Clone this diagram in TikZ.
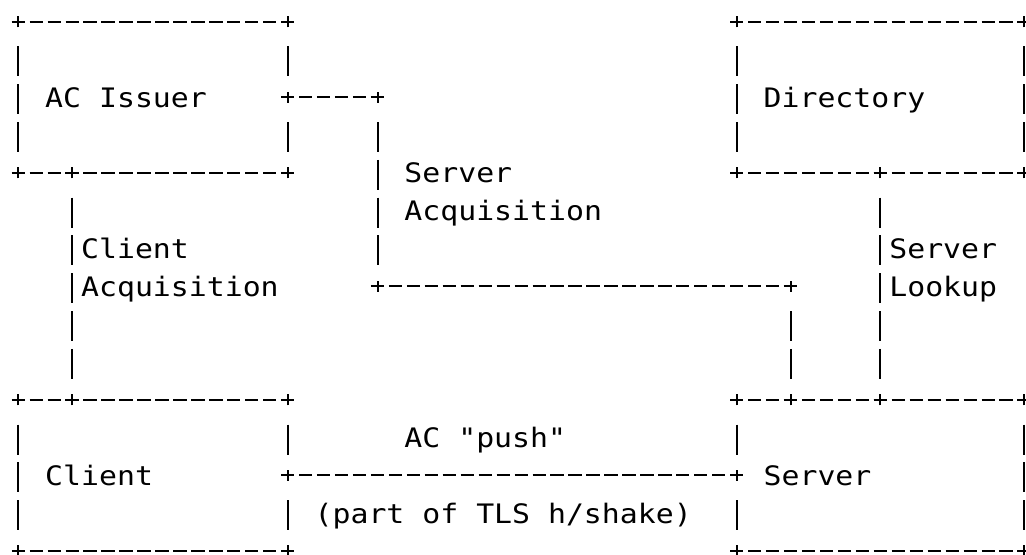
\documentclass[tikz,border=0pt]{standalone}
\usepackage{fontspec}
\newfontfamily\monofont[FakeStretch=1.113]{DejaVu Sans Mono}

\tikzset{
  % one column / one row of the character grid
  box/.style={rectangle, inner sep=0pt, outer sep=0pt},
  stroke/.style={line width=1pt, black},
  hrule/.style={stroke, dash pattern=on 6.65pt off 2.33pt, dash phase=3.325pt},
  vrule/.style={stroke, dash pattern=on 15pt off 3.9pt,
                shorten <=12.4pt, shorten >=10.4pt},
  lbl/.style={anchor=base west, inner sep=0pt, outer sep=0pt, yshift=-5pt,
              font=\monofont\fontsize{13.4}{16}\selectfont, text=black},
}

\begin{document}
\begin{tikzpicture}[x=8.98pt, y=-18.9pt]
\useasboundingbox (-9.15pt,10.85pt) rectangle (503.85pt,-266.65pt);
\clip (-9.15pt,10.85pt) rectangle (503.85pt,-266.65pt);

% boxes
\node[box, minimum width=134.7pt, minimum height=75.6pt] (issuer) at (7.5,2) {};
\node[box, minimum width=143.68pt, minimum height=75.6pt] (directory) at (48,2) {};
\node[box, minimum width=134.7pt, minimum height=75.6pt] (client) at (7.5,12) {};
\node[box, minimum width=143.68pt, minimum height=75.6pt] (server) at (48,12) {};

% junction points of the connectors
\coordinate (iE)  at (issuer.east);
\coordinate (sA1) at (20,2);
\coordinate (sA2) at (20,7);
\coordinate (sA3) at (43,7);
\coordinate (sT)  at (43,10);
\coordinate (cA1) at (3,4);
\coordinate (cA2) at (3,10);

% box edges, horizontal
\foreach \b in {issuer,directory,client,server}{
  \draw[hrule] (\b.north west) -- (\b.north east);
  \draw[hrule] (\b.south west) -- (\b.south east);
}
% box edges, vertical (split at junctions)
\draw[vrule] (issuer.north west) -- (issuer.south west);
\draw[vrule] (issuer.north east) -- (iE);
\draw[vrule] (iE) -- (issuer.south east);
\draw[vrule] (directory.north west) -- (directory.south west);
\draw[vrule] (directory.north east) -- (directory.south east);
\draw[vrule] (client.north west) -- (client.south west);
\draw[vrule] (client.north east) -- (client.east);
\draw[vrule] (client.east) -- (client.south east);
\draw[vrule] (server.north west) -- (server.west);
\draw[vrule] (server.west) -- (server.south west);
\draw[vrule] (server.north east) -- (server.south east);

% server acquisition
\draw[hrule] (iE) -- (sA1);
\draw[vrule] (sA1) -- (sA2);
\draw[hrule] (sA2) -- (sA3);
\draw[vrule] (sA3) -- (sT);
% client acquisition
\draw[vrule] (cA1) -- (cA2);
% server lookup
\draw[vrule] (directory.south) -- (server.north);
% AC push
\draw[hrule] (client.east) -- (server.west);

% plus signs at corners and junctions
\foreach \p in {issuer.north west, issuer.north east, issuer.south west, issuer.south east,
                directory.north west, directory.north east, directory.south west, directory.south east,
                client.north west, client.north east, client.south west, client.south east,
                server.north west, server.north east, server.south west, server.south east,
                iE, sA1, sA2, sA3, sT, cA1, cA2, directory.south, server.north,
                client.east, server.west}{
  \draw[stroke] ([xshift=-3.35pt]\p) -- ([xshift=3.35pt]\p)
                ([yshift=-2.8pt]\p) -- ([yshift=2.8pt]\p);
}

% labels
\node[lbl] (tIssuer) at (1.5,2) {AC Issuer};
\node[lbl] (tDir) at (41.5,2) {Directory};
\node[lbl] (tSA1) at (21.5,4) {Server};
\node[lbl] (tSA2) at (21.5,5) {Acquisition};
\node[lbl] (tCA1) at (3.5,6) {Client};
\node[lbl] (tCA2) at (3.5,7) {Acquisition};
\node[lbl] (tSL1) at (48.5,6) {Server};
\node[lbl] (tSL2) at (48.5,7) {Lookup};
\node[lbl] (tPush) at (21.5,11) {AC "push"};
\node[lbl] (tClient) at (1.5,12) {Client};
\node[lbl] (tServer) at (41.5,12) {Server};
\node[lbl] (tTLS) at (16.5,13) {(part of TLS h/shake)};
\end{tikzpicture}
\end{document}
